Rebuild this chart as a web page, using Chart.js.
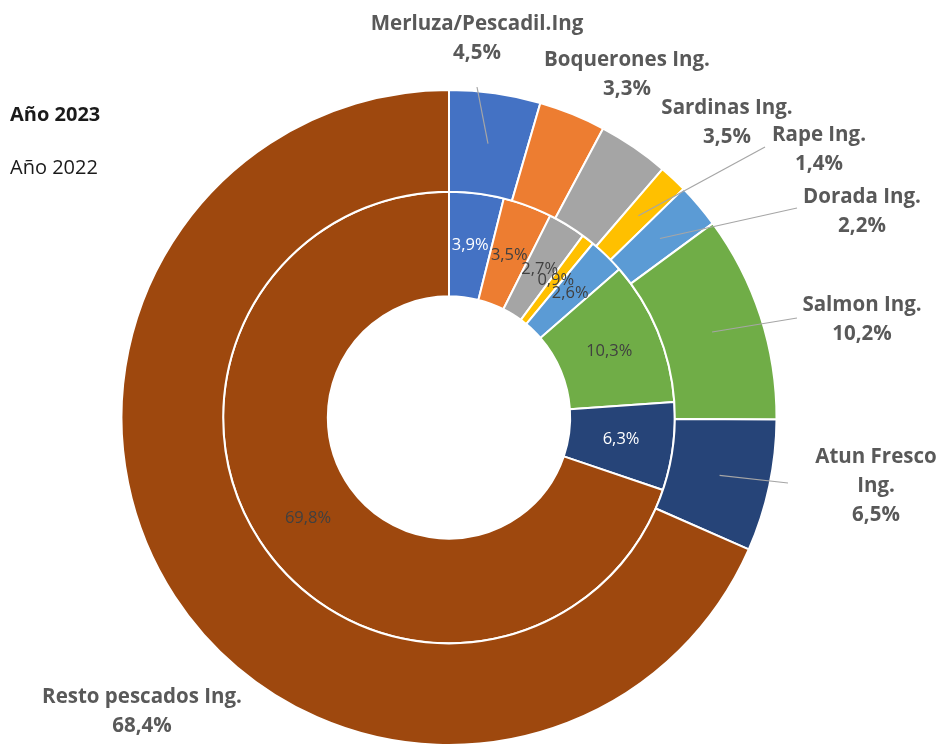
<!DOCTYPE html>
<html>
<head>
<meta charset="utf-8">
<script src="https://cdn.jsdelivr.net/npm/chart.js@4"></script>
<style>
  html, body { margin: 0; padding: 0; background: #fff; }
  #wrap { width: 939px; height: 746px; position: relative; }
</style>
</head>
<body>
<div id="wrap"><canvas id="fishChart"></canvas></div>
<script>
// Data
const categories = [
    'Merluza/Pescadil.Ing',
    'Boquerones Ing.',
    'Sardinas Ing.',
    'Rape Ing.',
    'Dorada Ing.',
    'Salmon Ing.',
    ['Atun Fresco', 'Ing.'],
    'Resto pescados Ing.'
];
const seriesNames = ['Año 2023', 'Año 2022'];
const values2023 = [4.5, 3.3, 3.5, 1.4, 2.2, 10.2, 6.5, 68.4];
const values2022 = [3.9, 3.5, 2.7, 0.9, 2.6, 10.3, 6.3, 69.8];

// Styles
const sliceColors = ['#4472C4', '#ED7D31', '#A5A5A5', '#FFC000', '#5B9BD5', '#70AD47', '#264478', '#9E480E'];
const innerTextColors = ['#ffffff', '#404040', '#404040', '#404040', '#404040', '#404040', '#ffffff', '#404040'];

// Where Excel put the outer labels (text centre x, first line y) and leader line ends
const outerLabelLayout = [
    { x: 477, y: 24, lineEnd: [477, 87] },
    { x: 627, y: 60, lineEnd: null },
    { x: 727, y: 108, lineEnd: null },
    { x: 819, y: 135, lineEnd: [765, 147] },
    { x: 862, y: 197, lineEnd: [797, 208] },
    { x: 862, y: 305, lineEnd: [797, 318] },
    { x: 876, y: 457, lineEnd: [788, 483] },
    { x: 142, y: 697, lineEnd: null }
];

const fmt = v => v.toFixed(1).replace('.', ',') + '%';

const labelPlugin = {
    id: 'excelLabels',
    afterDatasetsDraw(chart) {
        const ctx = chart.ctx;
        ctx.save();

        // series captions top-left
        ctx.fillStyle = '#1a1a1a';
        ctx.textAlign = 'left';
        ctx.textBaseline = 'middle';
        ctx.font = 'bold 20px "Open Sans"';
        ctx.fillText(seriesNames[0], 10, 115);
        ctx.font = '20px "Open Sans"';
        ctx.fillText(seriesNames[1], 10, 168);

        // outer ring: leader lines + labels
        const outerMeta = chart.getDatasetMeta(0);
        outerMeta.data.forEach((arc, i) => {
            const lay = outerLabelLayout[i];
            if (lay.lineEnd) {
                const p = arc.tooltipPosition();
                ctx.strokeStyle = '#A6A6A6';
                ctx.lineWidth = 1.2;
                ctx.beginPath();
                ctx.moveTo(p.x, p.y);
                ctx.lineTo(lay.lineEnd[0], lay.lineEnd[1]);
                ctx.stroke();
            }
            const lines = [].concat(categories[i], fmt(values2023[i]));
            ctx.fillStyle = '#595959';
            ctx.textAlign = 'center';
            ctx.textBaseline = 'middle';
            ctx.font = 'bold 20.5px "Open Sans"';
            lines.forEach((t, k) => ctx.fillText(t, lay.x, lay.y + k * 29));
        });

        // inner ring: values at the slice centres
        const innerMeta = chart.getDatasetMeta(1);
        innerMeta.data.forEach((arc, i) => {
            const p = arc.tooltipPosition();
            ctx.fillStyle = innerTextColors[i];
            ctx.textAlign = 'center';
            ctx.textBaseline = 'middle';
            ctx.font = '16.5px "Open Sans"';
            ctx.fillText(fmt(values2022[i]), p.x, p.y);
        });

        ctx.restore();
    }
};

const chartCtx = document.getElementById('fishChart').getContext('2d');
new Chart(chartCtx, {
    type: 'doughnut',
    data: {
        labels: categories,
        datasets: [{
            label: seriesNames[0],
            data: values2023,
            backgroundColor: sliceColors,
            borderColor: '#ffffff',
            borderWidth: 2,
            weight: 102
        }, {
            label: seriesNames[1],
            data: values2022,
            backgroundColor: sliceColors,
            borderColor: '#ffffff',
            borderWidth: 2,
            weight: 105
        }]
    },
    options: {
        responsive: true,
        maintainAspectRatio: false,
        animation: false,
        cutout: '37%',
        layout: {
            padding: { left: 120, right: 161, top: 89, bottom: 0 }
        },
        plugins: {
            legend: { display: false },
            tooltip: { enabled: false }
        }
    },
    plugins: [labelPlugin]
});
</script>
</body>
</html>
